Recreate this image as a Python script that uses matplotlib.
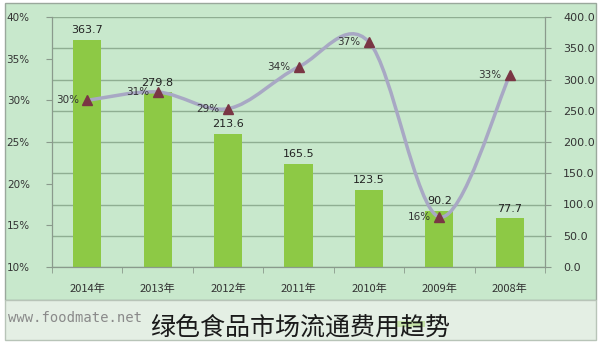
# green food market circulation cost trend chart (layout mirrored like the source image)

import numpy as np
import matplotlib
matplotlib.use('Agg')
import matplotlib.pyplot as plt
from matplotlib.path import Path
from matplotlib.patches import PathPatch, Rectangle

years = ['2014年', '2013年', '2012年', '2011年', '2010年', '2009年', '2008年']
costs = [363.7, 279.8, 213.6, 165.5, 123.5, 90.2, 77.7]
shares = [30, 31, 29, 34, 37, 16, 33]
share_labels = ['30%', '31%', '29%', '34%', '37%', '16%', '33%']
pct_ticks = [10, 15, 20, 25, 30, 35, 40]
cost_ticks = [0, 50, 100, 150, 200, 250, 300, 350, 400]

CJK = ['Noto Sans CJK SC', 'DejaVu Sans']
BG = '#c8e8cc'
BAR = '#8dc945'
LINE = '#a8a8c4'
MARK = '#7a3644'
GRID = '#8fae92'
AXIS = '#8a9a8c'


def smooth_path(xs, ys):
    # excel style smoothed line: bezier segments with catmull-rom control points
    verts = [(xs[0], ys[0])]
    codes = [Path.MOVETO]
    n = len(xs)
    for i in range(n - 1):
        p0 = np.array([xs[max(i - 1, 0)], ys[max(i - 1, 0)]], float)
        p1 = np.array([xs[i], ys[i]], float)
        p2 = np.array([xs[i + 1], ys[i + 1]], float)
        p3 = np.array([xs[min(i + 2, n - 1)], ys[min(i + 2, n - 1)]], float)
        c1 = p1 + (p2 - p0) / 6
        c2 = p2 - (p3 - p1) / 6
        verts += [tuple(c1), tuple(c2), tuple(p2)]
        codes += [Path.CURVE4] * 3
    return Path(verts, codes)


fig = plt.figure(figsize=(6, 3.44), dpi=100)
fig.patch.set_facecolor('white')

# chart panel and lower caption strip (drawn beneath the axes)
fig.patches.append(Rectangle((5 / 600, 44 / 344), 591 / 600, 297 / 344, transform=fig.transFigure,
                             facecolor=BG, edgecolor='#9aa89c', linewidth=1, zorder=-2))
fig.patches.append(Rectangle((5 / 600, 4 / 344), 591 / 600, 40 / 344, transform=fig.transFigure,
                             facecolor='#e4efe4', edgecolor='#b8c4b8', linewidth=1, zorder=-2))
fig.patches.append(Rectangle((395 / 600, 17 / 344), 30 / 600, 6 / 344, transform=fig.transFigure,
                             facecolor='#c5e3a8', edgecolor='none', zorder=-1))

ax2 = fig.add_axes([52 / 600, 77 / 344, 493 / 600, 250 / 344])
ax = ax2.twinx()
ax.set_zorder(ax2.get_zorder() + 1)
ax.patch.set_visible(False)
ax2.patch.set_visible(False)

x = np.arange(len(years))

# bars on the value axis (right side)
ax2.bar(x, costs, width=0.4, color=BAR, zorder=2)
for xi, v in zip(x, costs):
    ax2.text(xi, v + 7, f'{v}', ha='center', va='bottom', fontsize=8, color='#222222')
ax2.set_ylim(0, 400)
ax2.set_yticks(cost_ticks)
ax2.set_yticklabels([f'{t:.1f}' for t in cost_ticks])
ax2.yaxis.tick_right()
ax2.grid(axis='y', color=GRID, linewidth=1)
ax2.set_axisbelow(True)
ax2.set_xlim(-0.5, len(years) - 0.5)
ax2.set_xticks(x)
ax2.set_xticklabels(years, fontfamily=CJK, fontsize=8, color='#333333')
ax2.set_xticks(np.arange(-0.5, len(years), 1), minor=True)
ax2.tick_params(axis='x', which='major', length=0, pad=12)
ax2.tick_params(axis='x', which='minor', length=4, color=AXIS)
ax2.tick_params(axis='y', length=4, color=AXIS, labelsize=8, labelcolor='#333333', pad=9)

# percent line on the left axis
ax.add_patch(PathPatch(smooth_path(x, shares), facecolor='none', edgecolor=LINE,
                       linewidth=2.5, zorder=3))
ax.plot(x, shares, linestyle='none', marker='^', markersize=7, color=MARK, zorder=4)
for xi, s, lab in zip(x, shares, share_labels):
    ax.text(xi - 0.12, s, lab, ha='right', va='center', fontsize=7.5, color='#333333')
ax.set_ylim(10, 40)
ax.set_yticks(pct_ticks)
ax.set_yticklabels([f'{t}%' for t in pct_ticks])
ax.yaxis.tick_left()
ax.yaxis.set_label_position('left')
ax.tick_params(axis='y', length=4, color=AXIS, labelsize=7.5, labelcolor='#333333', pad=12)

for a in (ax, ax2):
    a.spines['top'].set_visible(False)
    for side in ('left', 'right', 'bottom'):
        a.spines[side].set_color(AXIS)

# watermark and caption
fig.text(8 / 600, 26 / 344, 'www.foodmate.net', fontsize=10, color='#8a8a8a',
         family='DejaVu Sans Mono', va='center')
fig.text(300 / 600, 16 / 344, '绿色食品市场流通费用趋势', fontsize=18, color='#1a1a1a',
         family=CJK, ha='center', va='center')

fig.savefig('out.png', dpi=100, facecolor=fig.get_facecolor())
